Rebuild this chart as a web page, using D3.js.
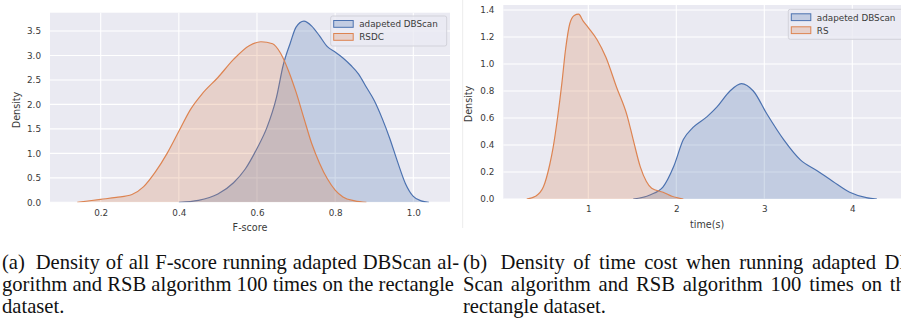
<!DOCTYPE html>
<html>
<head>
<meta charset="utf-8">
<script src="https://cdn.jsdelivr.net/npm/d3@7"></script>
<style>
  body { margin: 0; background: #fff; }
  svg { display: block; }
</style>
</head>
<body>
<svg width="901" height="322"></svg>
<script>
// (a) density of F-score
const fTicks = [0.2, 0.4, 0.6, 0.8, 1.0];
const fDensityTicks = [0, 0.5, 1, 1.5, 2, 2.5, 3, 3.5];
const fDbscanX = [0.40, 0.45, 0.50, 0.54, 0.57, 0.60, 0.625, 0.65, 0.667, 0.685, 0.70, 0.72, 0.74, 0.76, 0.78, 0.80, 0.82, 0.84, 0.86, 0.88, 0.90, 0.92, 0.94, 0.96, 0.98, 1.00, 1.02, 1.04];
const fDbscanY = [0, 0.04, 0.17, 0.40, 0.68, 1.10, 1.52, 2.15, 2.80, 3.25, 3.58, 3.70, 3.60, 3.40, 3.18, 3.07, 2.95, 2.80, 2.62, 2.35, 2.08, 1.72, 1.30, 0.82, 0.38, 0.12, 0.03, 0];
const fRsdcX = [0.14, 0.20, 0.24, 0.28, 0.31, 0.34, 0.37, 0.40, 0.43, 0.46, 0.50, 0.54, 0.58, 0.61, 0.64, 0.66, 0.68, 0.70, 0.72, 0.74, 0.76, 0.78, 0.80, 0.82, 0.85, 0.88];
const fRsdcY = [0, 0.06, 0.10, 0.16, 0.32, 0.62, 1.0, 1.45, 1.90, 2.22, 2.55, 2.92, 3.20, 3.28, 3.24, 3.05, 2.70, 2.25, 1.72, 1.20, 0.80, 0.48, 0.25, 0.11, 0.03, 0];

// (b) density of time cost
const tTicks = [1, 2, 3, 4];
const tDensityTicks = [0, 0.2, 0.4, 0.6, 0.8, 1.0, 1.2, 1.4];
const tDbscanX = [1.51, 1.70, 1.85, 1.97, 2.08, 2.19, 2.35, 2.46, 2.61, 2.74, 2.875, 3.03, 3.22, 3.41, 3.60, 3.78, 3.97, 4.16, 4.28];
const tDbscanY = [0, 0.03, 0.09, 0.24, 0.44, 0.53, 0.61, 0.68, 0.80, 0.855, 0.80, 0.63, 0.44, 0.29, 0.21, 0.13, 0.05, 0.01, 0];
const tRsX = [0.30, 0.40, 0.49, 0.56, 0.60, 0.65, 0.70, 0.74, 0.79, 0.84, 0.89, 0.94, 1.00, 1.10, 1.20, 1.32, 1.44, 1.51, 1.59, 1.66, 1.72, 1.85, 1.95, 2.08];
const tRsY = [0, 0.02, 0.09, 0.25, 0.38, 0.60, 0.86, 1.10, 1.30, 1.36, 1.37, 1.32, 1.27, 1.18, 1.05, 0.83, 0.62, 0.44, 0.24, 0.13, 0.08, 0.05, 0.02, 0];

const captionA = [
  "(a)  Density of all F-score running adapted DBScan al-",
  "gorithm and RSB algorithm 100 times on the rectangle",
  "dataset."
];
const captionB = [
  "(b)  Density of time cost when running adapted DB-",
  "Scan algorithm and RSB algorithm 100 times on the",
  "rectangle dataset."
];

const blue = "#4C72B0";
const orange = "#DD8452";
const svg = d3.select("svg");
const tickFont = "DejaVu Sans, sans-serif";

function drawPanel(o) {
  const x = d3.scaleLinear().domain(o.xDomain).range([o.left, o.right]);
  const y = d3.scaleLinear().domain(o.yDomain).range([o.bottom, o.top]);
  const g = svg.append("g");

  g.append("rect")
    .attr("x", o.left).attr("y", o.top)
    .attr("width", o.right - o.left).attr("height", o.bottom - o.top)
    .attr("fill", "#EAEAF2");

  // grid
  g.append("g").selectAll("line").data(o.xTicks).join("line")
    .attr("x1", d => x(d)).attr("x2", d => x(d))
    .attr("y1", o.top).attr("y2", o.bottom)
    .attr("stroke", "#fff").attr("stroke-width", 1.1);
  g.append("g").selectAll("line").data(o.yTicks).join("line")
    .attr("x1", o.left).attr("x2", o.right)
    .attr("y1", d => y(d)).attr("y2", d => y(d))
    .attr("stroke", "#fff").attr("stroke-width", 1.1);

  // axes without domain lines or tick marks, seaborn darkgrid look
  const xAxis = g.append("g").attr("transform", `translate(0,${o.bottom})`)
    .call(d3.axisBottom(x).tickValues(o.xTicks).tickFormat(o.xFormat).tickSize(0).tickPadding(7));
  const yAxis = g.append("g").attr("transform", `translate(${o.left},0)`)
    .call(d3.axisLeft(y).tickValues(o.yTicks).tickFormat(d3.format(".1f")).tickSize(0).tickPadding(9));
  [xAxis, yAxis].forEach(a => {
    a.select(".domain").remove();
    a.selectAll("text").attr("fill", "#3a3a3a").attr("font-family", tickFont).attr("font-size", 8.8);
  });

  g.append("text")
    .attr("x", (o.left + o.right) / 2).attr("y", o.xLabelY)
    .attr("text-anchor", "middle")
    .attr("font-family", tickFont).attr("font-size", 9.6).attr("fill", "#3a3a3a")
    .text(o.xLabel);
  g.append("text")
    .attr("transform", `translate(${o.yLabelX},${o.yLabelY}) rotate(-90)`)
    .attr("text-anchor", "middle")
    .attr("font-family", tickFont).attr("font-size", 9.6).attr("fill", "#3a3a3a")
    .text("Density");

  const clipId = "clip" + o.id;
  g.append("clipPath").attr("id", clipId).append("rect")
    .attr("x", o.left).attr("y", o.top)
    .attr("width", o.right - o.left).attr("height", o.bottom - o.top);
  const plot = g.append("g").attr("clip-path", `url(#${clipId})`);

  o.series.forEach(s => {
    const pts = s.xs.map((v, i) => [v, s.ys[i]]);
    const area = d3.area().x(d => x(d[0])).y0(y(0)).y1(d => y(d[1])).curve(d3.curveMonotoneX);
    const line = d3.line().x(d => x(d[0])).y(d => y(d[1])).curve(d3.curveMonotoneX);
    plot.append("path").attr("d", area(pts)).attr("fill", s.color).attr("fill-opacity", 0.25);
    plot.append("path").attr("d", line(pts)).attr("fill", "none")
      .attr("stroke", s.color).attr("stroke-width", 1.2);
  });

  // legend
  const lg = g.append("g");
  lg.append("rect")
    .attr("x", o.legend.x).attr("y", o.legend.y)
    .attr("width", o.legend.w).attr("height", 30)
    .attr("rx", 2)
    .attr("fill", "#EAEAF2").attr("fill-opacity", 0.8)
    .attr("stroke", "#d2d2da").attr("stroke-width", 1);
  o.series.forEach((s, i) => {
    const ry = o.legend.y + 4.5 + i * 13;
    lg.append("rect")
      .attr("x", o.legend.x + 3).attr("y", ry)
      .attr("width", 19.5).attr("height", 6.8)
      .attr("fill", s.color).attr("fill-opacity", 0.25)
      .attr("stroke", s.color).attr("stroke-width", 1);
    lg.append("text")
      .attr("x", o.legend.x + 28.5).attr("y", ry + 6.8)
      .attr("font-family", tickFont).attr("font-size", 8.8).attr("fill", "#3a3a3a")
      .text(s.name);
  });
}

drawPanel({
  id: "a",
  left: 50, right: 450, top: 12.7, bottom: 202.3,
  xDomain: [0.0703, 1.0939], yDomain: [0, 3.874],
  xTicks: fTicks, yTicks: fDensityTicks, xFormat: d3.format(".1f"),
  xLabel: "F-score", xLabelY: 231, yLabelX: 20, yLabelY: 110,
  legend: { x: 330.7, y: 16, w: 116 },
  series: [
    { name: "adapeted DBScan", xs: fDbscanX, ys: fDbscanY, color: blue },
    { name: "RSDC", xs: fRsdcX, ys: fRsdcY, color: orange }
  ]
});

drawPanel({
  id: "b",
  left: 503.3, right: 911, top: 5, bottom: 199,
  xDomain: [0.034, 4.667], yDomain: [0, 1.437],
  xTicks: tTicks, yTicks: tDensityTicks, xFormat: d3.format("d"),
  xLabel: "time(s)", xLabelY: 227.5, yLabelX: 472, yLabelY: 104,
  legend: { x: 788.3, y: 9.3, w: 119 },
  series: [
    { name: "adapeted DBScan", xs: tDbscanX, ys: tDbscanY, color: blue },
    { name: "RS", xs: tRsX, ys: tRsY, color: orange }
  ]
});

// faint figure border between the two images
svg.append("line")
  .attr("x1", 462.7).attr("x2", 462.7).attr("y1", 0).attr("y2", 228)
  .attr("stroke", "#ececec").attr("stroke-width", 1);

// captions, justified word by word like the LaTeX source
function captionLine(text, x0, width, y, justify) {
  const t = svg.append("text").attr("y", y)
    .attr("font-family", "Liberation Serif, Times New Roman, serif")
    .attr("font-size", 20.6).attr("fill", "#111");
  const words = text.split(/\s+/);
  const spans = words.map(w => t.append("tspan").text(w));
  const widths = spans.map(s => s.node().getComputedTextLength());
  const labelExtra = /^\(\w\)$/.test(words[0]) ? 5 : 0;
  let gap = 5.1;
  if (justify) gap = (width - d3.sum(widths) - labelExtra) / (words.length - 1);
  let x = x0;
  spans.forEach((s, i) => {
    s.attr("x", x);
    x += widths[i] + gap + (i === 0 ? labelExtra : 0);
  });
}

[captionA, captionB].forEach((lines, k) => {
  const x0 = k === 0 ? 2 : 463;
  lines.forEach((line, i) => {
    const w = i === 0 ? 457 : 452;
    captionLine(line, x0, w, 268.5 + i * 22, i < lines.length - 1);
  });
});
</script>
</body>
</html>
